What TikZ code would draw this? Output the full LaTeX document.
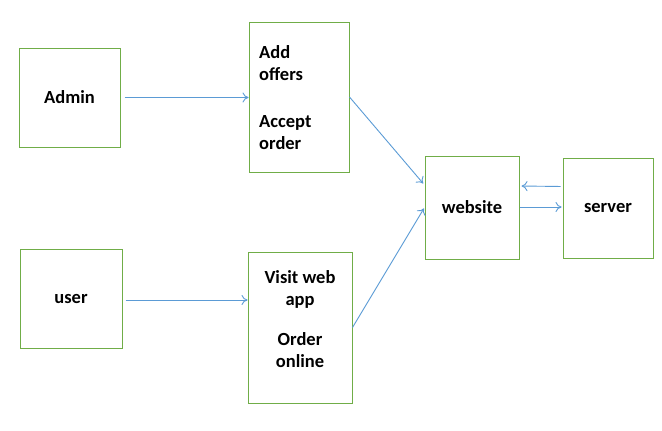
\documentclass[tikz,border=0pt]{standalone}
\usepackage{fontspec}
\setmainfont{Carlito}
\usetikzlibrary{arrows.meta}
\definecolor{boxgreen}{RGB}{112,173,71}
\definecolor{arrblue}{RGB}{91,155,213}
\begin{document}
\begin{tikzpicture}[x=1pt,y=-1pt,
  box/.style={draw=boxgreen, line width=1pt, fill=white, inner sep=0pt},
  txt/.style={font=\fontsize{18.5}{22}\selectfont\bfseries, text=black, inner sep=0pt},
  conn/.style={draw=arrblue, line width=0.9pt, -{To[length=6pt,width=10pt]}}]
\useasboundingbox (0,0) rectangle (662,431);
\node[box, minimum width=101pt, minimum height=99pt] (admin) at (69.5,97.5) {};
\node[txt] (admintxt) at (admin.center) {Admin};
\node[box, minimum width=102pt, minimum height=99pt] (user) at (71,298.5) {};
\node[txt] (usertxt) at (user.center) {user};
\node[box, minimum width=100pt, minimum height=150pt] (add) at (299,97) {};
\node[txt, align=left, anchor=north west] (addtxt) at (259,45) {Add\\offers\\[25pt]Accept\\order};
\node[box, minimum width=104pt, minimum height=151pt] (visit) at (300,327.5) {};
\node[txt, align=center, anchor=north] (visittxt) at (300,270) {Visit web\\app\\[18pt]Order\\online};
\node[box, minimum width=94pt, minimum height=103pt] (web) at (472,207.5) {};
\node[txt] (webtxt) at (web.center) {website};
\node[box, minimum width=90pt, minimum height=100pt] (srv) at (608,208) {};
\node[txt] (srvtxt) at (srv.center) {server};
\draw[conn, shorten <=4pt] (admin.east) -- (admin.east -| add.west);
\draw[conn, shorten <=3pt] ([yshift=-1.5pt]user.east) -- ([yshift=-1.5pt]user.east -| visit.west);
\draw[conn, shorten >=2pt] (add.east) -- ([yshift=22.5pt]web.west);
\draw[conn, shorten >=1pt] (visit.east) -- (web.west);
\draw[conn, shorten <=2pt, shorten >=2pt] ([yshift=21.5pt]srv.west) -- ([yshift=21.5pt]web.east);
\draw[conn, shorten >=1pt] ([yshift=0.5pt]web.east) -- ([yshift=0.5pt]web.east -| srv.west);
\end{tikzpicture}
\end{document}
